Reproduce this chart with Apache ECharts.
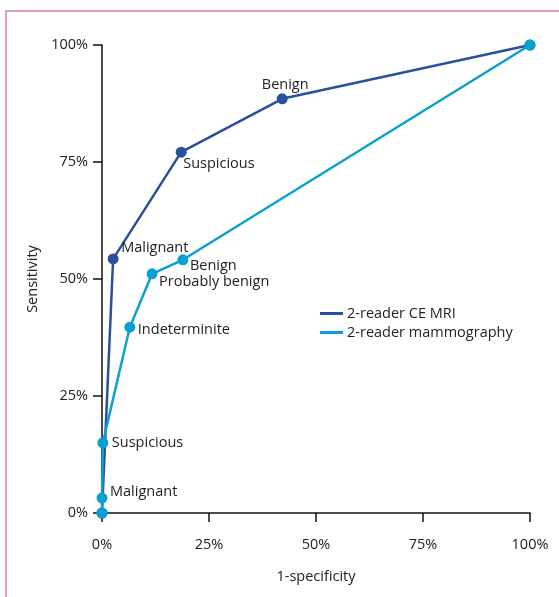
<!DOCTYPE html>
<html>
<head>
<meta charset="utf-8">
<style>
  html, body { margin: 0; padding: 0; background: #fff; }
  #chart { width: 559px; height: 597px; }
</style>
<script src="https://cdn.jsdelivr.net/npm/echarts@6/dist/echarts.min.js"></script>
</head>
<body>
<div id="chart"></div>
<script>
// ROC operating points: [1-specificity %, sensitivity %]
const mriPoints = [[0, 0], [2.6, 54.3], [18.5, 77.1], [42.1, 88.5], [100, 100]];
const mriLabels = ['', 'Malignant', 'Suspicious', 'Benign', ''];

const mammoPoints = [[0, 0], [0, 3.2], [0.2, 15.0], [6.5, 39.7], [11.7, 51.1], [18.9, 54.1], [100, 100]];
const mammoLabels = ['', 'Malignant', 'Suspicious', 'Indeterminite', 'Probably benign', 'Benign', ''];

const seriesNames = ['2-reader CE MRI', '2-reader mammography'];
const axisTicks = [0, 25, 50, 75, 100];

const MRI_COLOR = '#2a4f9c';
const MAMMO_COLOR = '#0aa0d0';
const FONT = 'Open Sans';
const FONT_SIZE = 14.5;

// label placement relative to each point centre
const mriLabelPlace = {
  1: { dx: 8, dy: -11, align: 'left' },
  2: { dx: 2, dy: 12, align: 'left' },
  3: { dx: 3, dy: -14, align: 'center' }
};
const mammoLabelPlace = {
  1: { dx: 8, dy: -6, align: 'left' },
  2: { dx: 9, dy: 0, align: 'left' },
  3: { dx: 8, dy: 3, align: 'left' },
  4: { dx: 7, dy: 8, align: 'left' },
  5: { dx: 7, dy: 6, align: 'left' }
};

function buildData(points, labels, place) {
  return points.map((p, i) => {
    const item = { value: p };
    const pl = place[i];
    if (labels[i] && pl) {
      item.label = {
        show: true,
        formatter: labels[i],
        position: 'inside',
        align: pl.align,
        verticalAlign: 'middle',
        offset: [pl.dx, pl.dy],
        color: '#222',
        fontFamily: FONT,
        fontSize: FONT_SIZE
      };
    }
    return item;
  });
}

const chart = echarts.init(document.getElementById('chart'), null, { renderer: 'canvas' });

const axisCommon = {
  type: 'value',
  min: axisTicks[0],
  max: axisTicks[axisTicks.length - 1],
  interval: 25,
  splitLine: { show: false },
  axisLine: { show: true, lineStyle: { color: '#111', width: 1.5 } },
  axisTick: { show: true, inside: false, length: 9, lineStyle: { color: '#111', width: 1.5 } },
  axisLabel: {
    color: '#222', fontFamily: FONT, fontSize: FONT_SIZE,
    formatter: v => v + '%'
  },
  nameLocation: 'middle',
  nameTextStyle: { color: '#222', fontFamily: FONT, fontSize: FONT_SIZE }
};

chart.setOption({
  animation: false,
  backgroundColor: '#fff',
  graphic: [{
    type: 'rect',
    shape: { x: 6, y: 11, width: 600, height: 650 },
    style: { fill: 'none', stroke: '#d4809f', lineWidth: 1.5 },
    z: -1
  }],
  grid: { left: 102, right: 29, top: 45, bottom: 84, containLabel: false },
  legend: {
    data: seriesNames,
    orient: 'vertical',
    left: 315,
    top: 301,
    itemWidth: 23,
    itemHeight: 3,
    itemGap: 4,
    icon: 'rect',
    textStyle: { color: '#222', fontFamily: FONT, fontSize: FONT_SIZE, padding: [0, 0, 0, -1] }
  },
  xAxis: Object.assign({}, axisCommon, {
    name: '1-specificity',
    nameGap: 56,
    axisLabel: Object.assign({}, axisCommon.axisLabel, { margin: 24 })
  }),
  yAxis: Object.assign({}, axisCommon, {
    name: 'Sensitivity',
    nameGap: 54,
    axisLabel: Object.assign({}, axisCommon.axisLabel, { margin: 14 })
  }),
  series: [
    {
      name: seriesNames[0],
      type: 'line',
      data: buildData(mriPoints, mriLabels, mriLabelPlace),
      color: MRI_COLOR,
      lineStyle: { color: MRI_COLOR, width: 2.5 },
      itemStyle: { color: MRI_COLOR },
      symbol: 'circle',
      symbolSize: 11,
      showAllSymbol: true,
      z: 2
    },
    {
      name: seriesNames[1],
      type: 'line',
      data: buildData(mammoPoints, mammoLabels, mammoLabelPlace),
      color: MAMMO_COLOR,
      lineStyle: { color: MAMMO_COLOR, width: 2.5 },
      itemStyle: { color: MAMMO_COLOR },
      symbol: 'circle',
      symbolSize: 11,
      showAllSymbol: true,
      z: 3
    }
  ]
});
</script>
</body>
</html>
